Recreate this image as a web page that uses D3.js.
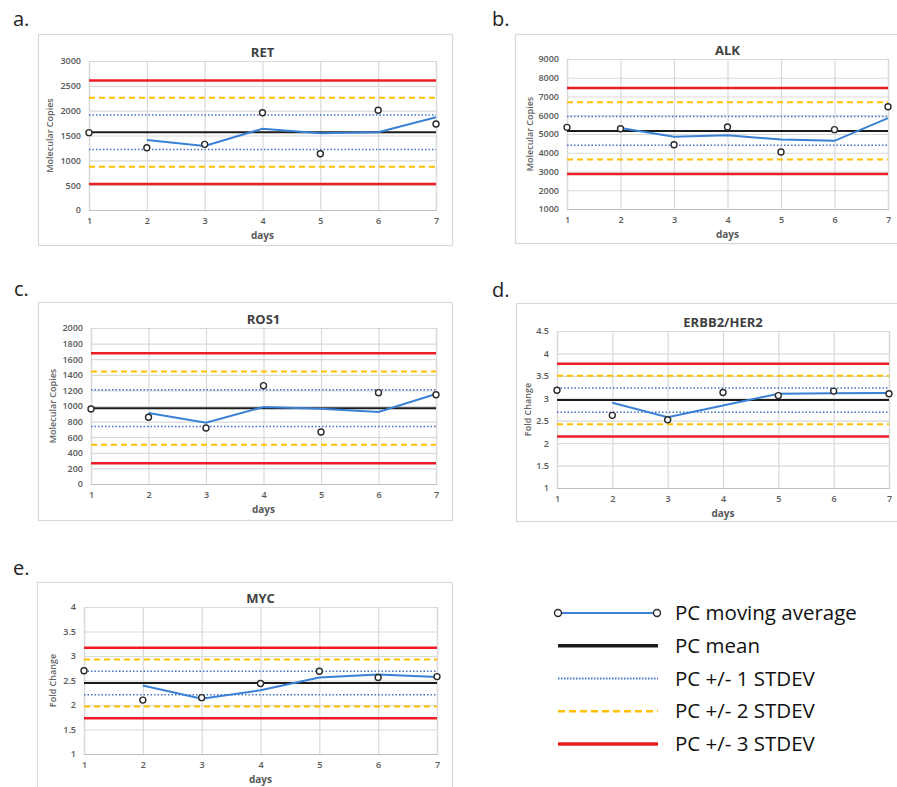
<!DOCTYPE html>
<html lang="en">
<head>
    <meta charset="UTF-8">
    <title>PC control charts</title>
    <script src="https://d3js.org/d3.v7.min.js"></script>
    <style>
        body { margin: 0; background: #fff; }
        svg { display: block; }
        text { font-family: "Open Sans", sans-serif; }
    </style>
</head>
<body>
    <div id="chart"></div>

    <script>
        // data
        const days = [1, 2, 3, 4, 5, 6, 7];
        const genes = ["RET", "ALK", "ROS1", "ERBB2/HER2", "MYC"];
        const panelLetters = ["a.", "b.", "c.", "d.", "e."];
        const yTitles = ["Molecular Copies", "Molecular Copies", "Molecular Copies", "Fold Change", "Fold Change"];
        const yDomains = [[0, 3000], [1000, 9000], [0, 2000], [1, 4.5], [1, 4]];
        const yTickSteps = [500, 1000, 200, 0.5, 0.5];

        // daily PC values (circles)
        const retValues  = [1557, 1254, 1322, 1959, 1134, 2007, 1731];
        const alkValues  = [5356, 5284, 4430, 5373, 4040, 5231, 6456];
        const ros1Values = [962, 855, 718, 1261, 667, 1171, 1145];
        const erbb2Values = [3.18, 2.62, 2.52, 3.13, 3.06, 3.16, 3.10];
        const mycValues  = [2.70, 2.10, 2.15, 2.44, 2.69, 2.56, 2.58];

        // PC moving average (starts on day 2)
        const retAverage  = [null, 1409, 1288, 1637, 1544, 1566, 1866];
        const alkAverage  = [null, 5320, 4857, 4930, 4707, 4636, 5843];
        const ros1Average = [null, 910, 786, 987, 964, 923, 1154];
        const erbb2Average = [null, 2.90, 2.58, 2.84, 3.10, 3.11, 3.12];
        const mycAverage  = [null, 2.40, 2.13, 2.30, 2.56, 2.62, 2.57];

        // PC mean and standard deviation
        const pcMeans = [1565, 5165, 972, 2.96, 2.45];
        const pcStdevs = [347, 765, 235, 0.27, 0.24];

        const allValues = [retValues, alkValues, ros1Values, erbb2Values, mycValues];
        const allAverages = [retAverage, alkAverage, ros1Average, erbb2Average, mycAverage];

        const legendLabels = ["PC moving average", "PC mean", "PC +/- 1 STDEV", "PC +/- 2 STDEV", "PC +/- 3 STDEV"];

        // layout: frame box, plot box, letter position
        const layout = [
            { frame: [38, 34, 452, 245], plot: [89, 61, 436, 210], letter: [13, 26], yOff: 40 },
            { frame: [515, 34, 910, 243], plot: [567, 59, 888, 209], letter: [492, 26], yOff: 38 },
            { frame: [38, 302, 452, 520], plot: [91, 328, 436, 484], letter: [14, 296], yOff: 39 },
            { frame: [516, 303, 910, 521], plot: [557, 331, 889, 488], letter: [492, 297], yOff: 30 },
            { frame: [37, 582, 452, 800], plot: [84, 607, 437, 754], letter: [13, 575], yOff: 32 }
        ];

        const colors = { red: "#ee1c25", yellow: "#ffc000", blue: "#4472c4", mean: "#1b1b1b", avg: "#3a80d6", grid: "#d9d9d9", frame: "#d9d9d9", tick: "#595959" };

        const svg = d3.select("#chart")
                      .append("svg")
                      .attr("width", 897)
                      .attr("height", 787);

        genes.forEach((gene, i) => {
            const L = layout[i];
            const [px0, py0, px1, py1] = L.plot;
            const g = svg.append("g");

            // panel frame
            g.append("rect")
             .attr("x", L.frame[0] + 0.5).attr("y", L.frame[1] + 0.5)
             .attr("width", L.frame[2] - L.frame[0]).attr("height", L.frame[3] - L.frame[1])
             .attr("fill", "#fff").attr("stroke", colors.frame).attr("stroke-width", 1.2);

            g.append("text")
             .attr("x", L.letter[0]).attr("y", L.letter[1])
             .attr("font-size", 20).attr("fill", "#222")
             .text(panelLetters[i]);

            const x = d3.scaleLinear().domain([1, 7]).range([px0, px1]);
            const y = d3.scaleLinear().domain(yDomains[i]).range([py1, py0]);
            const step = yTickSteps[i];
            const yTicks = d3.range(yDomains[i][0], yDomains[i][1] + step / 2, step);

            // gridlines
            g.append("g")
             .attr("transform", `translate(${px0},0)`)
             .call(d3.axisLeft(y).tickValues(yTicks).tickSize(-(px1 - px0)).tickFormat(d3.format("~g")).tickPadding(8))
             .call(a => a.select(".domain").remove())
             .call(a => a.selectAll("line").attr("stroke", colors.grid).attr("stroke-width", 1.2))
             .call(a => a.selectAll("text").attr("fill", colors.tick).attr("font-size", 9).attr("font-weight", 600).attr("font-family", "Open Sans"));

            g.append("g")
             .attr("transform", `translate(0,${py1})`)
             .call(d3.axisBottom(x).tickValues(days).tickSize(-(py1 - py0)).tickFormat(d3.format("d")).tickPadding(8))
             .call(a => a.select(".domain").attr("stroke", "#bfbfbf").attr("stroke-width", 1.2))
             .call(a => a.selectAll("line").attr("stroke", colors.grid).attr("stroke-width", 1.2))
             .call(a => a.selectAll("text").attr("fill", colors.tick).attr("font-size", 9).attr("font-weight", 600).attr("font-family", "Open Sans"));

            // title and axis labels
            g.append("text")
             .attr("x", (px0 + px1) / 2).attr("y", py0 - 4)
             .attr("text-anchor", "middle").attr("font-size", 13).attr("font-weight", 700)
             .attr("fill", "#404040").text(gene);

            g.append("text")
             .attr("x", (px0 + px1) / 2).attr("y", py1 + 29)
             .attr("text-anchor", "middle").attr("font-size", 10).attr("font-weight", 700)
             .attr("fill", "#595959").text("days");

            g.append("text")
             .attr("transform", `translate(${px0 - L.yOff},${(py0 + py1) / 2}) rotate(-90)`)
             .attr("text-anchor", "middle").attr("dominant-baseline", "central")
             .attr("font-size", 9).attr("font-weight", 600).attr("fill", "#666").text(yTitles[i]);

            // control limit lines
            const m = pcMeans[i], s = pcStdevs[i];
            const limits = [
                { k: 3, color: colors.red, width: 2.5, dash: null },
                { k: 2, color: colors.yellow, width: 2, dash: "6,4" },
                { k: 1, color: colors.blue, width: 1.5, dash: "1.5,2" }
            ];
            limits.forEach(l => {
                [m + l.k * s, m - l.k * s].forEach(v => {
                    g.append("line")
                     .attr("x1", x(1)).attr("x2", x(7))
                     .attr("y1", y(v)).attr("y2", y(v))
                     .attr("stroke", l.color).attr("stroke-width", l.width)
                     .attr("stroke-dasharray", l.dash);
                });
            });
            g.append("line")
             .attr("x1", x(1)).attr("x2", x(7))
             .attr("y1", y(m)).attr("y2", y(m))
             .attr("stroke", colors.mean).attr("stroke-width", 2);

            // moving average line
            const line = d3.line()
                           .defined(d => d.v !== null)
                           .x(d => x(d.day)).y(d => y(d.v));
            g.append("path")
             .datum(days.map((d, j) => ({ day: d, v: allAverages[i][j] })))
             .attr("d", line)
             .attr("fill", "none").attr("stroke", colors.avg).attr("stroke-width", 2);

            // daily values
            g.selectAll("circle.pt")
             .data(days.map((d, j) => ({ day: d, v: allValues[i][j] })))
             .join("circle")
             .attr("class", "pt")
             .attr("cx", d => x(d.day)).attr("cy", d => y(d.v))
             .attr("r", 3)
             .attr("fill", "#fff").attr("stroke", "#2a2a2a").attr("stroke-width", 1.4);
        });

        // legend
        const legend = svg.append("g");
        const legendY = d3.scalePoint().domain(legendLabels).range([613, 744]);
        const legendStyles = [
            { color: colors.avg, width: 2, dash: null },
            { color: colors.mean, width: 3.5, dash: null },
            { color: colors.blue, width: 2, dash: "1.5,1.5" },
            { color: colors.yellow, width: 2.5, dash: "7,4" },
            { color: colors.red, width: 3.5, dash: null }
        ];
        legendLabels.forEach((label, i) => {
            const yy = legendY(label);
            legend.append("line")
                  .attr("x1", 558).attr("x2", 658).attr("y1", yy).attr("y2", yy)
                  .attr("stroke", legendStyles[i].color).attr("stroke-width", legendStyles[i].width)
                  .attr("stroke-dasharray", legendStyles[i].dash);
            if (i === 0) {
                [558, 657].forEach(cx => {
                    legend.append("circle")
                          .attr("cx", cx).attr("cy", yy).attr("r", 3.5)
                          .attr("fill", "#fff").attr("stroke", "#2a2a2a").attr("stroke-width", 1.4);
                });
            }
            legend.append("text")
                  .attr("x", 675).attr("y", yy + 7)
                  .attr("font-size", 20.5).attr("fill", "#111")
                  .text(label);
        });
    </script>
</body>
</html>
